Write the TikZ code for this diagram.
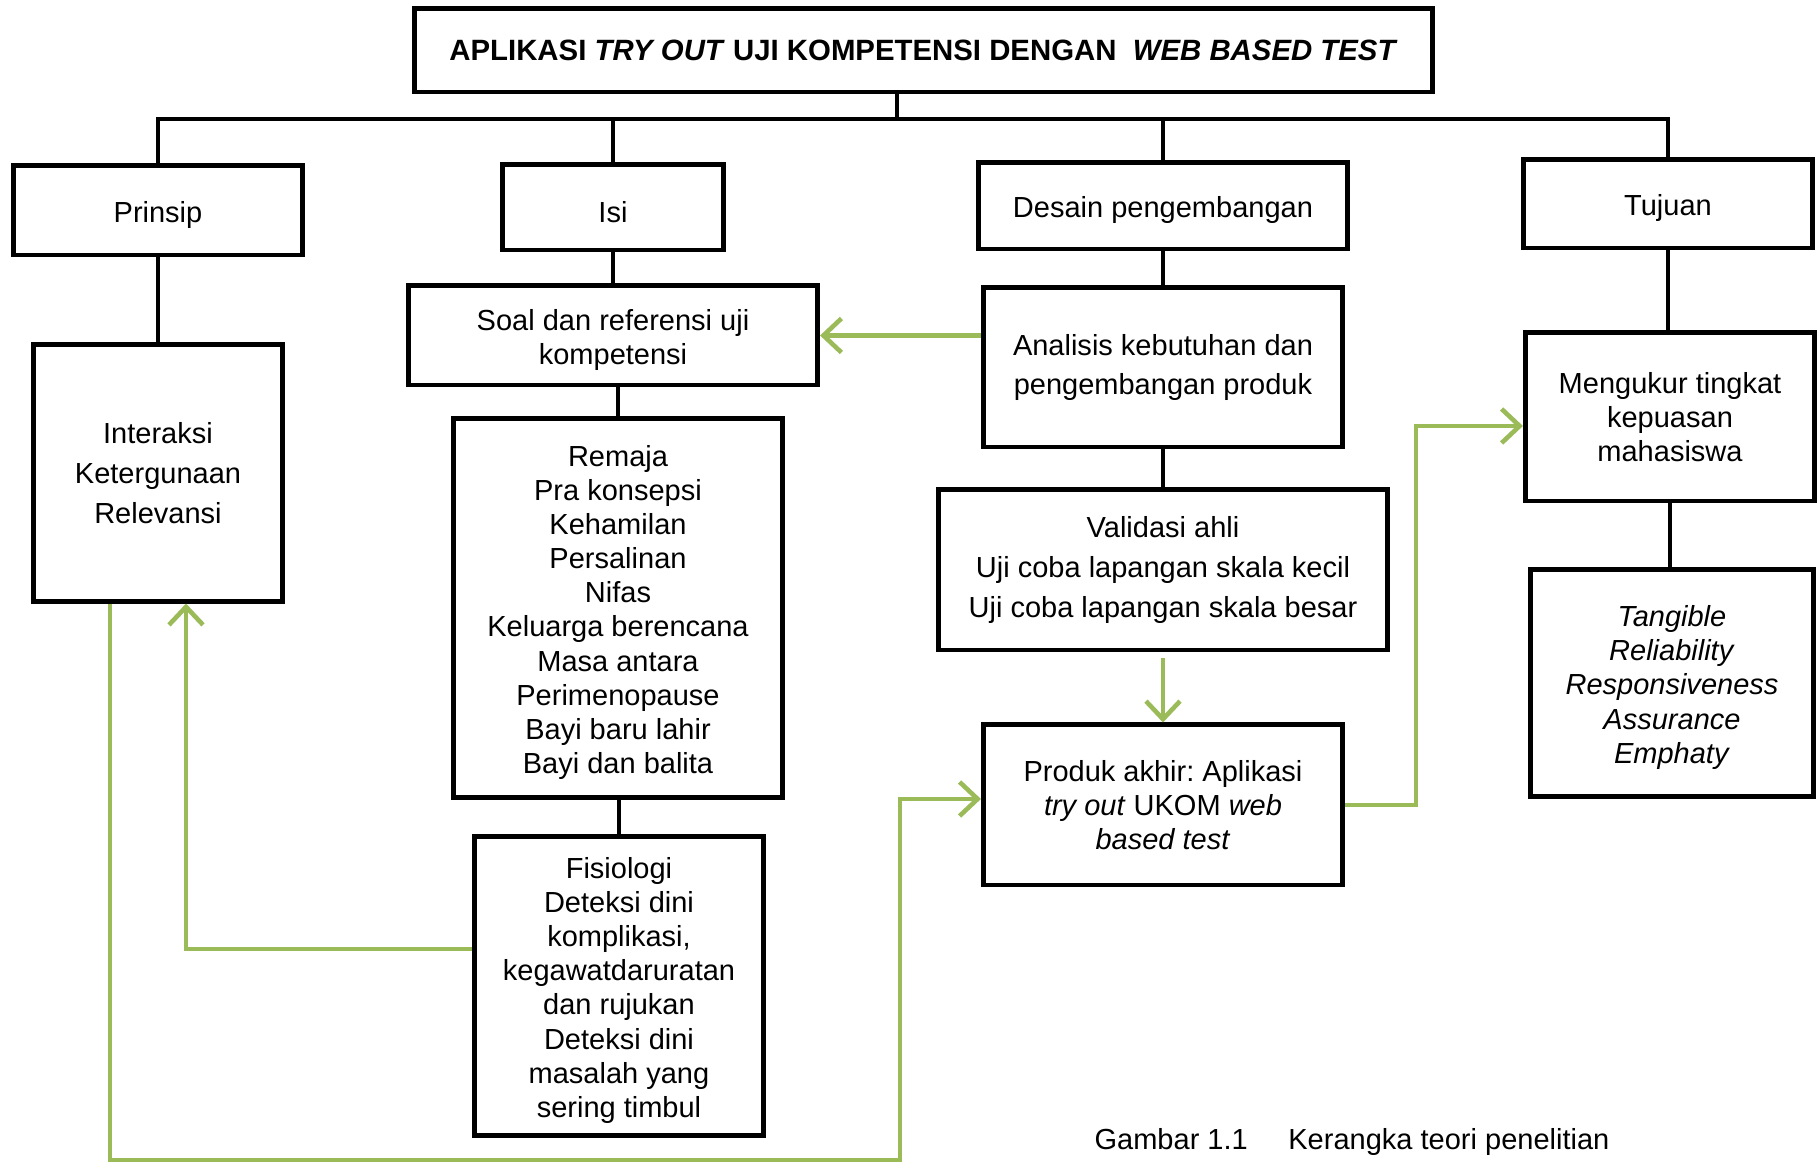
\documentclass[tikz,border=0pt]{standalone}
\usepackage{fontspec}
\setmainfont{Liberation Sans}
\usetikzlibrary{arrows.meta}
\definecolor{hijau}{RGB}{155,187,89}
\frenchspacing
\newcommand\atas{\rule{0pt}{8.5pt}}

\begin{document}
\begin{tikzpicture}[>={Straight Barb[length=1.8mm,width=3.4mm]},x=0.01cm,y=-0.01cm,
  box/.style={draw,line width=1.4pt,inner sep=0pt,align=center,font=\fontsize{8.25}{9.7}\selectfont},
  lebar/.style={font=\fontsize{8.25}{11.3}\selectfont},
  garis/.style={line width=1.1pt},
  panah/.style={draw=hijau,line width=1.3pt,->}]
 \xdef\bus{119}
 \useasboundingbox (0,0) rectangle (1820,1165);
 \coordinate (bus) at (0,\bus);
 \node[box,minimum width=10.17cm,minimum height=0.83cm,font=\bfseries\fontsize{8.35}{9.7}\selectfont] (judul) at (923.5,50.5)
   {APLIKASI \textit{TRY OUT} UJI KOMPETENSI DENGAN\ \ \textit{WEB BASED TEST}};
 \node[box,minimum width=2.89cm,minimum height=0.89cm] (prinsip) at (158,210.5) {\atas Prinsip};
 \node[box,minimum width=2.20cm,minimum height=0.85cm] (isi) at (613,207.5) {\atas Isi};
 \node[box,minimum width=3.69cm,minimum height=0.86cm] (desain) at (1163,206) {\atas Desain pengembangan};
 \node[box,minimum width=2.89cm,minimum height=0.88cm] (tujuan) at (1668,204) {\atas Tujuan};
 \node[box,lebar,minimum width=2.49cm,minimum height=2.56cm] (interaksi) at (158,473)
   {Interaksi\\Ketergunaan\\Relevansi};
 \node[box,minimum width=4.09cm,minimum height=0.99cm] (soal) at (613,335.5)
   {\atas Soal dan referensi uji\\kompetensi};
 \node[box,minimum width=3.29cm,minimum height=3.78cm] (remaja) at (618,608)
   {\atas Remaja\\Pra konsepsi\\Kehamilan\\Persalinan\\Nifas\\Keluarga berencana\\Masa antara\\Perimenopause\\Bayi baru lahir\\Bayi dan balita};
 \node[box,minimum width=2.88cm,minimum height=2.98cm] (fisiologi) at (619,986)
   {\atas Fisiologi\\Deteksi dini\\komplikasi,\\kegawatdaruratan\\dan rujukan\\Deteksi dini\\masalah yang\\sering timbul};
 \node[box,lebar,minimum width=3.59cm,minimum height=1.59cm] (analisis) at (1163,367.5)
   {Analisis kebutuhan dan\\pengembangan produk};
 \node[box,lebar,minimum width=4.49cm,minimum height=1.60cm] (validasi) at (1163,570)
   {Validasi ahli\\Uji coba lapangan skala kecil\\Uji coba lapangan skala besar};
 \node[box,minimum width=3.59cm,minimum height=1.60cm] (produk) at (1163,805)
   {Produk akhir: Aplikasi\\\textit{try out} UKOM \textit{web}\\\textit{based test}};
 \node[box,minimum width=2.89cm,minimum height=1.68cm] (mengukur) at (1670,417)
   {Mengukur tingkat\\kepuasan\\mahasiswa};
 \node[box,minimum width=2.83cm,minimum height=2.26cm] (tangible) at (1672,683)
   {\atas\textit{Tangible}\\\textit{Reliability}\\\textit{Responsiveness}\\\textit{Assurance}\\\textit{Emphaty}};
 \node[font=\fontsize{8.25}{9.7}\selectfont] (ket) at (1352,1142) {Gambar 1.1\hspace{1.4em}Kerangka teori penelitian};

 \coordinate (batang) at ([xshift=-0.265cm]judul.south);
 \draw[garis] (batang) -- (batang |- bus);
 \draw[garis] (prinsip.north) -- (prinsip.north |- bus) -- (tujuan.north |- bus) -- (tujuan.north);
 \draw[garis] (isi.north) -- (isi.north |- bus);
 \draw[garis] (desain.north) -- (desain.north |- bus);
 \draw[garis] (prinsip.south) -- (interaksi.north);
 \draw[garis] (isi.south) -- (soal.north);
 \draw[garis] (remaja.north) -- (remaja.north |- soal.south);
 \draw[garis] (remaja.south) -- (remaja.south -| fisiologi.north) -- (fisiologi.north);
 \draw[garis] (desain.south) -- (analisis.north);
 \draw[garis] (analisis.south) -- (validasi.north);
 \draw[garis] (tujuan.south) -- (tujuan.south |- mengukur.north);
 \draw[garis] (mengukur.south) -- (mengukur.south |- tangible.north);

 \coordinate (bawah) at (900,1160);
 \draw[panah] (soal.east -| analisis.west) -- (soal.east);
 \draw[panah] ([yshift=-0.06cm]validasi.south) -- (produk.north);
 \draw[panah] (produk.east) -- ++(71,0) |- ([yshift=-0.09cm]mengukur.west);
 \draw[panah] ([yshift=0.37cm]fisiologi.west) -| ([xshift=0.28cm]interaksi.south);
 \draw[panah] ([xshift=-0.48cm]interaksi.south) |- (bawah) |- ([yshift=0.06cm]produk.west);
\end{tikzpicture}
\end{document}
